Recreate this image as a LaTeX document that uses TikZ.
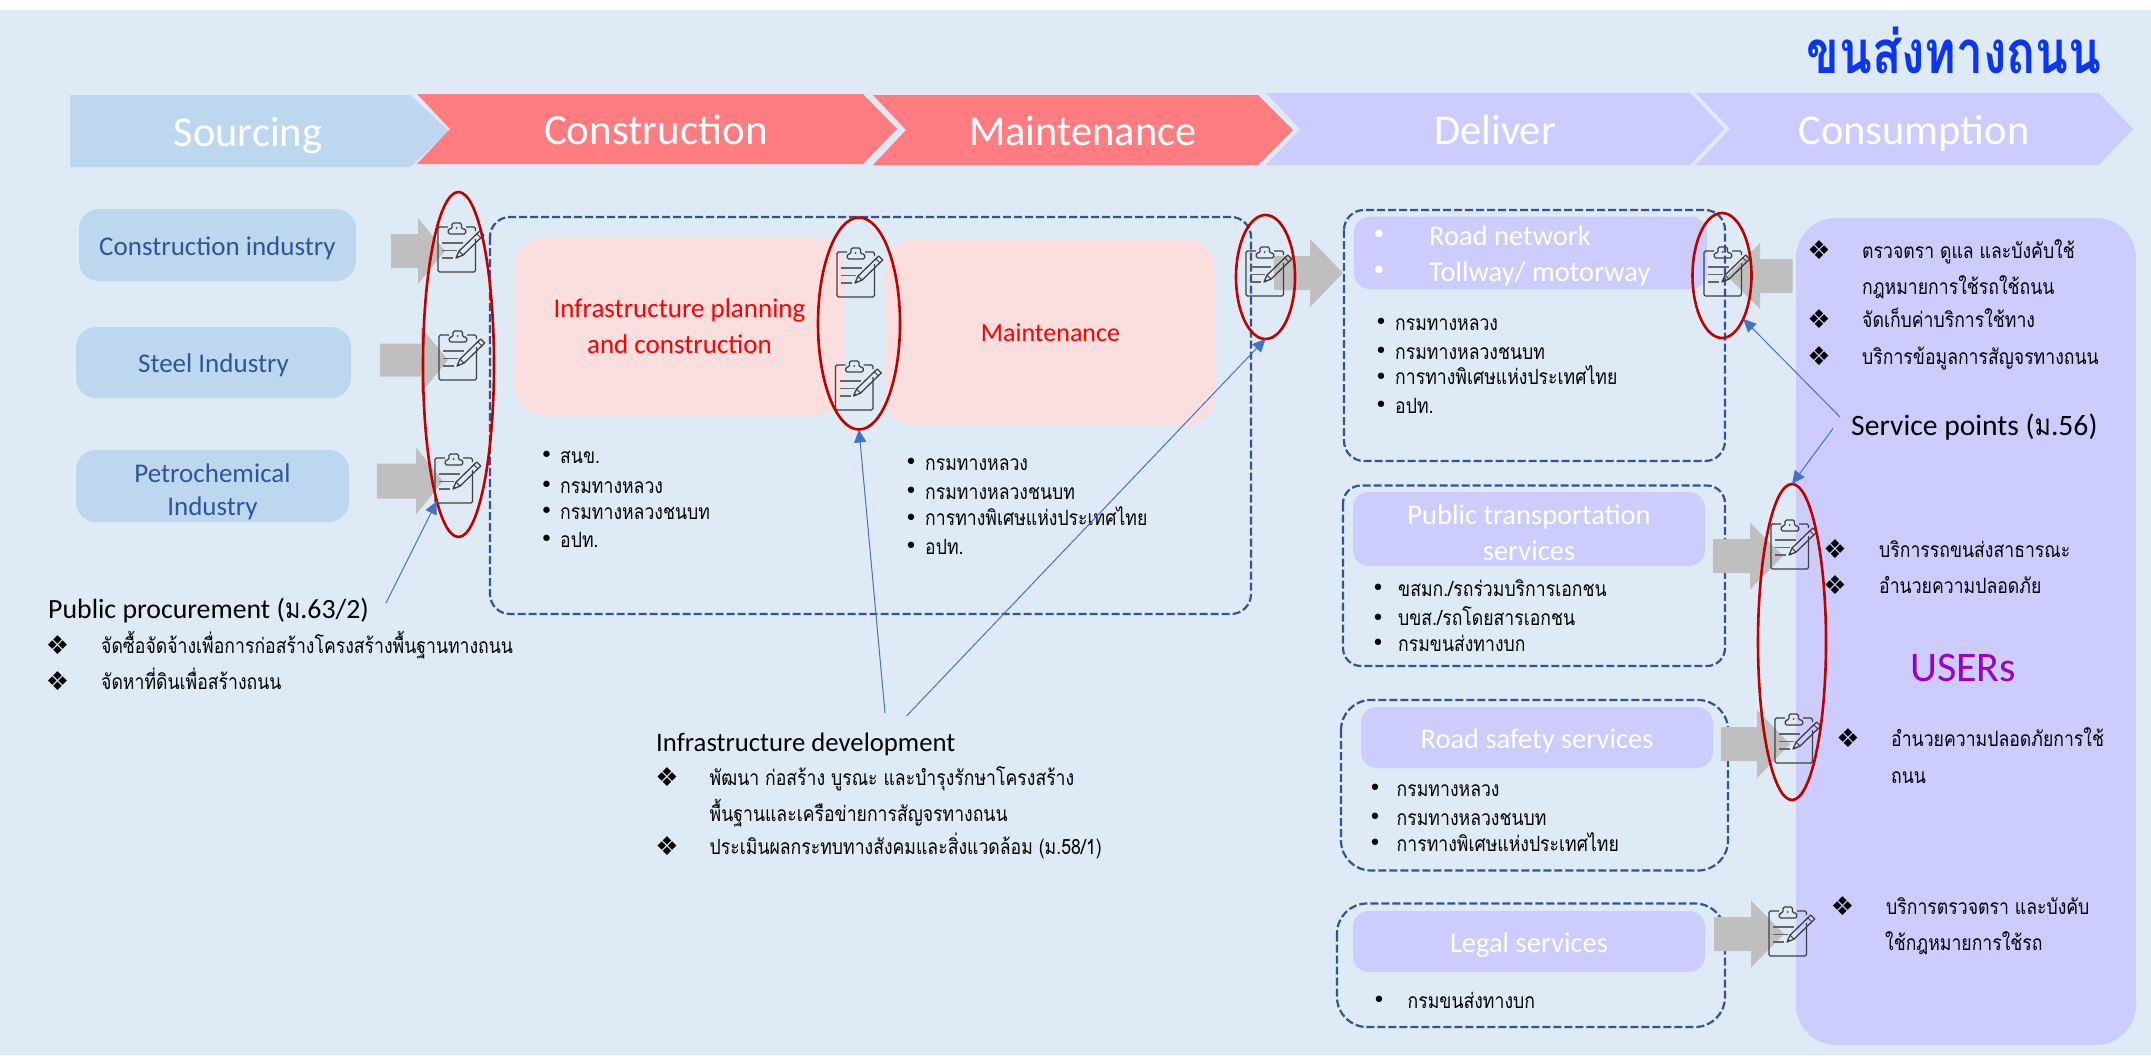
\documentclass[tikz,border=0pt]{standalone}
\usepackage{xcolor}
\usepackage{fontspec}
\setmainfont{Carlito}
\newfontfamily\thaifont[Script=Thai,FakeStretch=0.84]{Loma}
\newfontfamily\titlefont[Script=Thai,FakeStretch=0.8]{Loma}
\newfontfamily\symfont{DejaVu Sans}
\usetikzlibrary{shapes.geometric, arrows.meta}
\definecolor{pagewash}{HTML}{DEEAF6}
\definecolor{sourceblue}{HTML}{BDD7EE}
\definecolor{buildred}{HTML}{FF7C80}
\definecolor{servicelilac}{HTML}{CCCCFF}
\definecolor{worksblush}{HTML}{FBDEDE}
\definecolor{framenavy}{HTML}{2F5597}
\definecolor{ringred}{HTML}{C00000}
\definecolor{linkblue}{HTML}{4472C4}
\definecolor{flowgrey}{HTML}{BFBFBF}
\definecolor{titleblue}{HTML}{0A35F5}
\definecolor{usersviolet}{HTML}{9900CC}
\definecolor{inkgrey}{HTML}{404040}
\tikzset{
  srcbox/.style={fill=sourceblue, rounded corners=20pt, inner sep=0pt, align=center, text=framenavy,
    font=\fontsize{27}{33}\selectfont, execute at begin node=\rule{0pt}{25pt}},
  lilacbox/.style={fill=servicelilac, rounded corners=16pt, inner sep=0pt, align=center, text=white,
    font=\fontsize{28.5}{36}\selectfont, execute at begin node=\rule{0pt}{26pt}},
  worksbox/.style={fill=worksblush, rounded corners=30pt, inner sep=0pt, align=center, text=red,
    font=\fontsize{27}{36}\selectfont},
  frame/.style={draw=framenavy, line width=2.2pt, dash pattern=on 8pt off 3pt},
  ring/.style={draw=ringred, line width=2.6pt, ellipse, inner sep=0pt, outer sep=0pt},
  link/.style={draw=linkblue, line width=1pt, -{Triangle[length=13pt,width=12pt]}},
  thaitext/.style={font=\thaifont\fontsize{21}{21}\selectfont, anchor=west, inner sep=0pt, text height=21pt, text depth=5pt},
  dotmark/.style={font=\symfont\fontsize{22}{22}\selectfont, inner sep=0pt},
  gemmark/.style={font=\symfont\fontsize{26}{26}\selectfont, inner sep=0pt},
  heading/.style={font=\fontsize{27.8}{27.8}\selectfont, anchor=west, inner sep=0pt, text=black, text height=20pt, text depth=0pt},
  roadline/.style={text=white, font=\fontsize{28.5}{28.5}\selectfont, anchor=west, inner sep=0pt, text height=19pt, text depth=0pt},
  pics/clipnote/.style={code={
    \draw[inkgrey, line width=1.3pt, rounded corners=1.5pt] (10,0) -- (0,0) -- (0,45) -- (37.5,45) -- (37.5,12);
    \draw[inkgrey, line width=1.3pt, rounded corners=1.5pt] (28,0) -- (37.5,0) -- (37.5,4);
    \draw[inkgrey, line width=1.3pt, rounded corners=1.5pt] (10.3,7) -- (10.3,2) -- (14,2) -- (14,-4) -- (23.5,-4) -- (23.5,2) -- (27.7,2) -- (27.7,7) -- cycle;
    \fill[inkgrey] (18.6,1) circle (1pt);
    \draw[inkgrey!80, line width=1.6pt] (4.3,16) -- (25.3,16) (4.3,23.3) -- (19,23.3) (4.3,31) -- (15,31);
    \draw[inkgrey, line width=1.3pt, line join=round] (18,31) -- (25,28.1) -- (45.7,8) -- (41.7,4) -- (21,24.1) -- cycle;
    \draw[inkgrey, line width=1pt] (25,28.1) -- (21,24.1) (43,11) -- (39,7);
    \fill[inkgrey] (18,31) -- (20.8,29.8) -- (19.2,28.2) -- cycle;
  }}
}

\begin{document}
\begin{tikzpicture}[x=1pt, y=-1pt]
  \useasboundingbox (0,0) rectangle (2151,1055);

  % Page background
  \fill[white] (0,0) rectangle (2151,1055);
  \fill[pagewash] (0,10) rectangle (2151,1055);

  % Title
  \node[text=titleblue, font=\titlefont\bfseries\fontsize{60}{60}\selectfont, inner sep=0pt] (title) at (1954,50) {ขนส่งทางถนน};

  % Chain of chevrons
  \foreach \xl/\xn/\xs/\xt/\yt/\yb/\col/\lx/\fs/\label in {
    70/70/410/449/95/167/sourceblue/248/42.5/Sourcing,
    417/450/863/897/94/164/buildred/656/43/Construction,
    873/906/1258/1293/95/165/buildred/1083/42.5/Maintenance,
    1266/1300/1690/1724/93/165/servicelilac/1495/42.5/Deliver,
    1696/1730/2099/2133/93/165/servicelilac/1914/42.5/Consumption} {
    \fill[\col] (\xl,\yt) -- (\xs,\yt) -- (\xt,{(\yt+\yb)/2}) -- (\xs,\yb) -- (\xl,\yb) -- (\xn,{(\yt+\yb)/2}) -- cycle;
    \node[text=white, font=\fontsize{\fs}{\fs}\selectfont, inner sep=0pt, text height=31pt, text depth=0pt] (stage\label) at (\lx,{(\yt+\yb)/2}) {\label};
  }

  % Sourcing boxes
  \node[srcbox, minimum width=277pt, minimum height=72pt] (construction) at (217.5,245) {Construction industry};
  \node[srcbox, minimum width=275pt, minimum height=71pt] (steel) at (213.5,362.5) {Steel Industry};
  \node[srcbox, minimum width=273pt, minimum height=72pt] (petro) at (212.5,486) {\rule{0pt}{30pt}Petrochemical\\Industry};

  % Works boxes
  \node[worksbox, minimum width=329pt, minimum height=179pt] (planning) at (679.5,326.5) {Infrastructure planning\\and construction};
  \node[worksbox, minimum width=330pt, minimum height=187pt, font=\fontsize{26}{26}\selectfont] (upkeep) at (1050.5,332.5) {Maintenance};

  % Dashed frames
  \draw[frame, rounded corners=20pt] (490,217) rectangle (1251,614);
  \draw[frame, rounded corners=20pt] (1344,210) rectangle (1725,461);
  \draw[frame, rounded corners=18pt] (1343,485.5) rectangle (1725,666);
  \draw[frame, rounded corners=30pt] (1341,700) rectangle (1728,870.5);
  \draw[frame, rounded corners=30pt] (1337,903.5) rectangle (1725,1027);

  % Service boxes
  \node[lilacbox, minimum width=353pt, minimum height=72.5pt] (roads) at (1530.5,252.8) {};
  \node[lilacbox, minimum width=352pt, minimum height=74pt] (transit) at (1529,529) {\rule{0pt}{27pt}Public transportation\\services};
  \node[lilacbox, minimum width=352pt, minimum height=61pt] (safety) at (1537,737.5) {Road safety services};
  \node[lilacbox, minimum width=352pt, minimum height=61pt] (legal) at (1529,941.5) {Legal services};
  \node[fill=servicelilac, rounded corners=40pt, minimum width=340pt, minimum height=827pt, inner sep=0pt] (users) at (1966,631.5) {};

  \node[text=white, font=\symfont\fontsize{26}{26}\selectfont, inner sep=0pt] (roadsdot1) at (1379,237) {•};
  \node[text=white, font=\symfont\fontsize{26}{26}\selectfont, inner sep=0pt] (roadsdot2) at (1379,273) {•};
  \node[roadline] (roads1) at (1429,236) {Road network};
  \node[roadline] (roads2) at (1429,272) {Tollway/ motorway};

  % Grey flow arrows
  \foreach \xa/\xb/\xc/\ym/\hs/\hh in {
    391/418/445/251/17/33, 380/421/448/360/16.5/33, 377/416/443/481/17.5/33.5,
    1274/1310/1343/273/17/34, 1792.5/1760/1727/276/17/33, 1713/1750/1783/556/17/33.5,
    1721/1757/1790/744/17/34, 1714/1751/1784/934/17/33.5} {
    \fill[flowgrey] (\xa,\ym-\hs) -- (\xb,\ym-\hs) -- (\xb,\ym-\hh) -- (\xc,\ym) -- (\xb,\ym+\hh) -- (\xb,\ym+\hs) -- (\xa,\ym+\hs) -- cycle;
  }

  % Clipboard icons
  \foreach \x/\y in {438/227, 439/335, 435/458, 837/252, 835.5/365, 1246/251, 1704/251, 1771/524, 1775/718, 1769/911} {
    \pic at (\x,\y) {clipnote};
  }

  % Red rings
  \node[ring, minimum width=71pt, minimum height=345pt] (ringsource) at (458.5,364.5) {};
  \node[ring, minimum width=82pt, minimum height=212pt] (ringworks) at (859,323.5) {};
  \node[ring, minimum width=59pt, minimum height=124pt] (ringhandover) at (1265.5,277) {};
  \node[ring, minimum width=59pt, minimum height=125pt] (ringnetwork) at (1722,275.5) {};
  \node[ring, minimum width=68pt, minimum height=316pt] (ringservice) at (1792,642) {};

  % Round bullet lists
  \foreach \dx/\tx/\ty/\txt [count=\n] in {
    546.5/560/455/สนข., 546.5/560/485/กรมทางหลวง, 546.5/560/511/กรมทางหลวงชนบท, 546.5/560/539/อปท.,
    911/925/462/กรมทางหลวง, 911/925/491/กรมทางหลวงชนบท, 911/925/517.5/การทางพิเศษแห่งประเทศไทย, 911/925/546/อปท.,
    1381/1395/322/กรมทางหลวง, 1381/1395/351/กรมทางหลวงชนบท, 1381/1395/376.5/การทางพิเศษแห่งประเทศไทย, 1381/1395/405/อปท.,
    1378/1398/588/{ขสมก./รถร่วมบริการเอกชน}, 1378/1398/617.5/{บขส./รถโดยสารเอกชน}, 1378/1398/643/กรมขนส่งทางบก,
    1375/1396.5/788/กรมทางหลวง, 1375/1396.5/817/กรมทางหลวงชนบท, 1375/1396.5/843/การทางพิเศษแห่งประเทศไทย,
    1379/1407.5/1000/กรมขนส่งทางบก} {
    \node[dotmark] (agencydot\n) at (\dx,\ty+2) {•};
    \node[thaitext] (agency\n) at (\tx,\ty) {\txt};
  }

  % Diamond bullet lists
  \foreach \dx/\tx/\ty/\mark/\txt [count=\n] in {
    57.5/101/645/1/จัดซื้อจัดจ้างเพื่อการก่อสร้างโครงสร้างพื้นฐานทางถนน,
    57.5/101/681/1/จัดหาที่ดินเพื่อสร้างถนน,
    667/709.5/777/1/พัฒนา ก่อสร้าง บูรณะ และบำรุงรักษาโครงสร้าง,
    667/709.5/813/0/พื้นฐานและเครือข่ายการสัญจรทางถนน,
    667/709.5/846/1/{ประเมินผลกระทบทางสังคมและสิ่งแวดล้อม (ม.58/1)},
    1819/1862/250/1/ตรวจตรา ดูแล และบังคับใช้,
    1819/1862/286/0/กฎหมายการใช้รถใช้ถนน,
    1819/1862/319/1/จัดเก็บค่าบริการใช้ทาง,
    1819/1862/356/1/บริการข้อมูลการสัญจรทางถนน,
    1835/1879/549/1/บริการรถขนส่งสาธารณะ,
    1835/1879/585/1/อำนวยความปลอดภัย,
    1848/1891/738.5/1/อำนวยความปลอดภัยการใช้,
    1848/1891/775.5/0/ถนน,
    1842.5/1886/906.5/1/บริการตรวจตรา และบังคับ,
    1842.5/1885/942/0/ใช้กฎหมายการใช้รถ} {
    \ifnum\mark=1
      \node[gemmark] (dutygem\n) at (\dx,\ty) {❖};
    \fi
    \node[thaitext] (duty\n) at (\tx,\ty) {\txt};
  }

  % Headings
  \node[heading] (procure) at (48,608) {Public procurement ({\thaifont ม}.63/2)};
  \node[heading, font=\fontsize{26.7}{26.7}\selectfont] (develop) at (656,741) {Infrastructure development};
  \node[heading, font=\fontsize{29.6}{29.6}\selectfont] (points) at (1851,425.5) {Service points ({\thaifont ม}.56)};
  \node[text=usersviolet, font=\fontsize{42}{42}\selectfont, inner sep=0pt] (usersword) at (1963,668) {USERs};

  % Blue connectors
  \coordinate (procurefoot) at (386,603);
  \coordinate (developleft) at (885,713);
  \coordinate (developright) at (906.5,716);
  \coordinate (pointsup) at (1840,417);
  \coordinate (pointsdown) at (1833,428.5);
  \draw[link] (procurefoot) -- (ringsource.261);
  \draw[link] (developleft) -- (ringworks.south);
  \draw[link] (developright) -- (ringhandover.south);
  \draw[link] (pointsup) -- (ringnetwork.-64);
  \draw[link] (pointsdown) -- (ringservice.north);
\end{tikzpicture}
\end{document}
